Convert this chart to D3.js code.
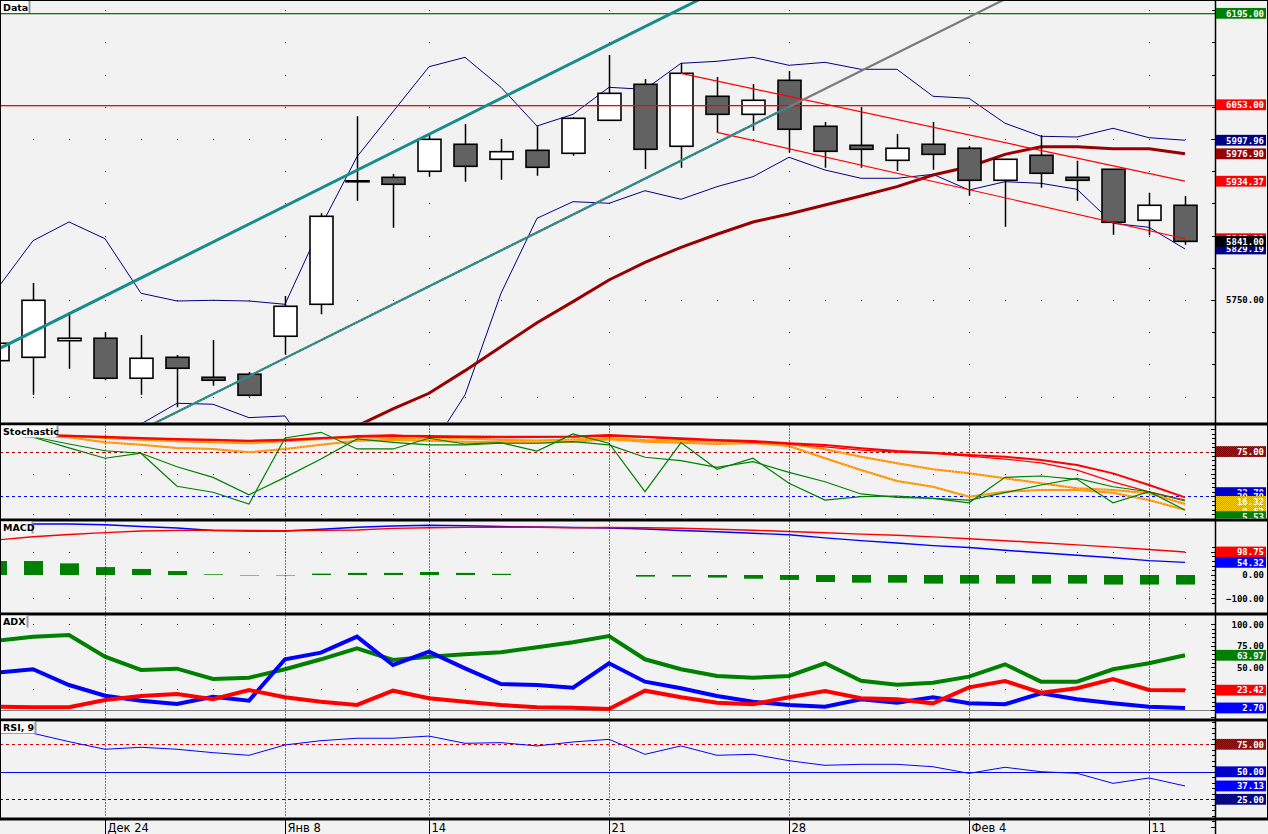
<!DOCTYPE html>
<html><head><meta charset="utf-8">
<script src="https://cdn.jsdelivr.net/npm/d3@7/dist/d3.min.js"></script>
<style>html,body{margin:0;padding:0;background:#f2f2f2;overflow:hidden}</style>
</head><body>
<svg id="chart" width="1268" height="834"></svg>
<script>
// ---------------- DATA ----------------
const dates = ['2018-12-19','2018-12-20','2018-12-21','2018-12-24','2018-12-25','2018-12-26','2018-12-27','2018-12-28',
 '2019-01-08','2019-01-09','2019-01-10','2019-01-11','2019-01-14','2019-01-15','2019-01-16','2019-01-17','2019-01-18',
 '2019-01-21','2019-01-22','2019-01-23','2019-01-24','2019-01-25','2019-01-28','2019-01-29','2019-01-30','2019-01-31',
 '2019-02-01','2019-02-04','2019-02-05','2019-02-06','2019-02-07','2019-02-08','2019-02-11','2019-02-12'];
const tickDates = ['2018-12-24','2019-01-08','2019-01-14','2019-01-21','2019-01-28','2019-02-04','2019-02-11'];
const tickLabels = ['Дек 24','Янв 8','14','21','28','Фев 4','11'];

const open  = [5655.8,5661.0,5686.8,5690.6,5628.5,5661.0,5630.0,5634.7,5693.7,5743.3,5935.0,5940.4,5949.8,5991.7,5968.4,5982.3,5977.7,6028.9,6084.8,5988.6,6066.2,6038.2,6091.0,6019.6,5990.1,5966.8,5991.7,5985.5,5935.8,5974.6,5940.4,5952.9,5873.7,5897.0];
const high  = [5691.0,5776.4,5731.0,5700.3,5695.7,5664.6,5687.9,5638.2,5756.2,5884.6,6035.1,5945.6,6006.1,6023.2,5999.9,6020.1,6034.0,6130.3,6093.0,6117.8,6096.1,6085.3,6105.4,6026.3,6049.6,6007.6,6026.3,5989.0,5968.8,6005.6,5966.2,5953.3,5916.5,5911.4];
const low   = [5644.5,5603.0,5643.4,5625.4,5603.0,5583.5,5617.0,5600.0,5665.1,5727.8,5904.1,5862.2,5941.4,5933.6,5936.7,5942.9,5974.0,6027.8,5953.3,5955.3,6009.2,6012.8,5978.6,5955.3,5955.3,5950.2,5952.2,5911.9,5863.8,5924.3,5904.1,5851.3,5850.4,5835.8];
const close = [5682.8,5749.5,5690.6,5628.5,5659.5,5644.0,5625.4,5602.1,5740.2,5879.9,5933.8,5929.6,5999.4,5957.5,5980.2,5956.0,6032.0,6070.8,5983.9,6101.9,6038.2,6060.0,6015.0,5980.8,5983.9,5985.5,5976.1,5935.8,5968.4,5946.7,5935.8,5870.6,5897.0,5841.0];

const bbUpper = [5767.1,5842.0,5871.1,5845.1,5760.4,5748.4,5749.5,5748.4,5743.3,5864.9,5972.4,6042.3,6112.1,6126.7,6080.1,6020.1,6038.2,6080.1,6077.0,6117.4,6120.5,6126.7,6114.3,6118.9,6108.1,6108.1,6066.2,6063.1,6024.3,6004.1,6003.0,6016.5,6001.9,5997.96];
const bbLower = [5509.4,5486.1,5486.1,5524.9,5557.5,5589.7,5588.1,5567.3,5570.0,5486.1,5424.1,5439.6,5515.6,5602.6,5760.4,5876.8,5902.6,5900.1,5919.6,5906.3,5925.9,5941.4,5971.5,5951.8,5938.9,5938.9,5945.1,5920.7,5933.6,5931.1,5921.8,5869.0,5862.8,5829.19];
const maLine  = [5307.7,5330.9,5354.2,5377.5,5400.8,5424.1,5448.9,5473.7,5498.6,5524.9,5554.4,5580.8,5605.2,5640.3,5677.5,5714.8,5747.4,5781.0,5808.5,5831.8,5852.0,5871.1,5883.5,5897.4,5911.4,5925.9,5944.0,5956.9,5976.1,5987.9,5987.9,5984.8,5984.8,5976.90];

const levelGreen = 6195.00;
const levelRed = 6053.00;
const trendUpper = [[0,5672.7],[20,6230.1]];
const trendLower = [[4,5548.2],[28,6217.0]];
const trendLowerTealEnd = 22;
const channelUpper = [[19,6101.9],[33,5934.37]];
const channelLower = [[20,6010.3],[33,5845.1]];

const stochFast = [93.6,91.0,79.2,67.5,73.1,36.1,29.4,16.2,90.2,96.6,77.9,77.9,89.9,83.5,84.9,75.6,94.7,84.3,30.0,85.0,55.2,67.5,39.5,20.7,24.4,25.2,22.6,17.6,46.1,47.6,43.9,17.6,30.0,9.5];
const stochSlow = [93.6,91.6,83.5,75.9,73.1,58.0,46.1,26.6,46.1,66.7,89.1,85.4,82.4,82.4,84.3,84.3,86.1,82.4,68.6,64.8,57.4,63.6,51.7,41.2,27.5,23.7,22.6,20.7,28.9,37.5,45.0,35.6,30.0,19.6];
const stochRed1 = [94.7,93.9,92.8,91.7,90.2,89.1,88.3,87.2,88.3,90.2,91.7,92.8,92.5,92.0,91.5,91.5,92.0,93.6,91.7,89.9,88.0,86.8,84.2,82.4,78.7,75.6,73.7,71.1,69.2,65.5,59.9,50.6,37.5,23.7];
const stochRed2 = [94.7,93.5,92.0,90.5,89.5,88.0,87.5,86.5,87.2,89.5,93.0,93.6,91.0,91.0,90.5,91.0,91.5,92.4,91.0,88.7,87.3,85.4,83.3,80.3,76.6,74.3,72.8,69.9,66.5,62.4,54.2,41.1,29.9,20.7];
const stochOrange1 = [94.7,93.6,92.8,90.2,88.3,86.5,85.4,84.3,86.5,89.1,91.0,90.2,89.5,89.5,88.0,87.5,88.5,89.9,88.0,87.2,86.1,86.1,83.5,77.5,69.2,61.8,55.1,50.6,45.0,39.4,33.8,31.9,28.2,16.32];
const stochOrange2 = [93.9,92.4,91.0,85.4,82.7,79.0,77.9,74.2,77.9,82.7,87.2,88.0,87.0,86.0,85.5,85.0,86.0,88.7,86.1,84.9,83.5,84.5,81.2,67.5,54.3,42.0,35.6,24.4,30.0,31.9,31.9,28.9,20.7,9.63];
const stochLevels = [75, 25];

const macdLine   = [217.6,218.9,218.9,215.9,208.2,201.7,191.0,188.8,188.8,196.1,204.7,210.3,213.3,211.2,208.2,206.0,203.9,201.7,197.4,191.0,185.4,179.4,172.5,159.2,147.6,137.3,126.2,118.0,106.0,95.3,85.0,73.8,61.8,54.32];
const macdSignal = [150.2,164.4,173.8,182.0,188.8,191.4,191.8,191.4,190.1,191.8,193.1,200.0,203.0,204.3,204.7,204.7,202.6,203.9,202.6,200.9,196.6,192.3,186.7,181.1,175.5,170.4,163.5,155.4,147.2,138.6,129.2,119.7,109.4,98.75];
const macdHist   = [60,60,50,34,26,17,3,-2,-2,6,9,9,13,9,5,0,0,0,-7,-7,-11,-16,-21,-30,-33,-33,-37,-37,-37,-37,-37,-41,-41,-41];

const adxLine = [80.9,85.6,87.6,62.3,46.9,48.4,36.4,37.9,47.7,59.3,72.1,58.5,62.3,65.1,67.4,73.3,79.1,86.4,59.3,47.7,39.9,37.9,39.9,54.7,34.4,29.8,32.1,39.1,53.5,33.3,33.3,47.7,54.7,63.97];
const diPlus  = [43.7,47.7,29.4,17.0,11.2,7.3,15.8,11.2,59.3,67.0,85.6,52.7,68.1,48.8,30.6,29.4,26.3,54.7,33.3,25.6,16.6,10.0,6.2,4.2,12.8,8.8,15.1,8.1,7.0,19.8,12.8,8.1,4.2,2.70];
const diMinus = [4.2,3.5,3.5,12.0,16.6,19.0,12.8,23.6,15.1,10.0,6.2,22.8,14.0,10.0,6.2,3.5,3.0,1.5,22.8,15.1,8.8,7.0,15.1,22.4,14.0,12.8,8.1,26.7,34.1,20.5,25.6,36.4,23.6,23.42];

const rsi = [85.0,85.0,77.4,70.5,72.3,70.5,67.4,65.0,74.4,78.3,80.5,80.5,82.5,75.9,76.5,73.5,77.1,79.5,65.9,73.5,65.0,65.9,60.1,55.9,56.8,56.8,54.6,48.6,54.1,50.1,48.6,39.5,44.4,37.13];
const rsiLevels = [75, 50, 25];

// ---------------- SETUP ----------------
const W = 1268, H = 834, PR = 1215;
const svg = d3.select('#chart');
svg.append('rect').attr('width', W).attr('height', H).attr('fill', '#f2f2f2');
const defs = svg.append('defs');
function dither(id, c1, c2) {
  const p = defs.append('pattern').attr('id', id).attr('width', 2).attr('height', 2).attr('patternUnits', 'userSpaceOnUse');
  p.append('rect').attr('width', 2).attr('height', 2).attr('fill', c1);
  p.append('rect').attr('width', 1).attr('height', 1).attr('fill', c2);
  p.append('rect').attr('x', 1).attr('y', 1).attr('width', 1).attr('height', 1).attr('fill', c2);
}
dither('dRed', '#e00000', '#800000');
dither('dBlue', '#0000e0', '#000080');
dither('dOrange', '#ff8000', '#ffd000');

const panels = {
  main:  {y0: 1,   y1: 422.5},
  stoch: {y0: 425.5, y1: 518.5},
  macd:  {y0: 521.5, y1: 612.5},
  adx:   {y0: 615.5, y1: 718.5},
  rsi:   {y0: 721.5, y1: 817.5}
};
Object.entries(panels).forEach(([k, p]) => {
  defs.append('clipPath').attr('id', 'clip-' + k).append('rect')
    .attr('x', 1).attr('y', p.y0).attr('width', PR - 1).attr('height', p.y1 - p.y0);
  defs.append('clipPath').attr('id', 'lab-' + k).append('rect')
    .attr('x', 1216).attr('y', p.y0).attr('width', 51).attr('height', p.y1 - p.y0);
});

const idx = d3.range(dates.length);
const x = d3.scaleLinear().domain([0, dates.length - 1]).range([-3, 1185]);
const xd = d => x(dates.indexOf(d));
const yMain  = d3.scaleLinear().domain([5600, 6200]).range([396.6, 10.1]);
const yStoch = d3.scaleLinear().domain([0, 100]).range([518.5, 429.25]);
const yMacd  = d3.scaleLinear().domain([-100, 100]).range([598.3, 551.7]);
const yAdx   = d3.scaleLinear().domain([0, 100]).range([710.3, 624.3]);
const yRsi   = d3.scaleLinear().domain([0, 100]).range([826.8, 716.8]);

function dots(g, pts) {
  g.append('g').selectAll('rect').data(pts).join('rect')
    .attr('x', d => Math.round(d[0])).attr('y', d => Math.round(d[1]))
    .attr('width', 1).attr('height', 1).attr('fill', '#000');
}
function series(g, arr, y, color, w, dash) {
  const p = g.append('path').datum(arr)
    .attr('d', d3.line().x((d, i) => x(i)).y(d => y(d)))
    .attr('fill', 'none').attr('stroke', color).attr('stroke-width', w)
    .attr('stroke-linejoin', 'miter');
  if (dash) p.attr('stroke-dasharray', dash);
  return p;
}
function seg(g, pts, y, color, w, dash) {
  const p = g.append('path').datum(pts)
    .attr('d', d3.line().x(d => x(d[0])).y(d => y(d[1])))
    .attr('fill', 'none').attr('stroke', color).attr('stroke-width', w);
  if (dash) p.attr('stroke-dasharray', dash);
  return p;
}
function hline(g, v, y, color, w, dash) {
  const yy = Math.round(y(v)) + 0.5;
  const l = g.append('line').attr('x1', 0).attr('x2', PR).attr('y1', yy).attr('y2', yy)
    .attr('stroke', color).attr('stroke-width', w).attr('shape-rendering', 'crispEdges');
  if (dash) l.attr('stroke-dasharray', dash);
}
function levelBar(g, v, y, color) {
  g.append('rect').attr('x', 1).attr('width', PR - 1)
    .attr('y', Math.round(y(v))).attr('height', 1.3).attr('fill', color);
}

// ---------------- MAIN PANEL ----------------
const gM = svg.append('g').attr('clip-path', 'url(#clip-main)');
const mainRows = d3.range(5600, 6201, 50);
const mainMajorRows = [6000, 5750, 5600];
let pts = [];
mainMajorRows.forEach(r => idx.forEach(i => pts.push([x(i), yMain(r)])));
tickDates.forEach(d => mainRows.forEach(r => pts.push([xd(d), yMain(r)])));
dots(gM, pts);

series(gM, bbUpper, yMain, '#000080', 1);
series(gM, bbLower, yMain, '#000080', 1);
series(gM, maLine, yMain, '#990000', 3);

const candles = idx.map(i => ({i, o: open[i], h: high[i], l: low[i], c: close[i]}));
gM.append('g').selectAll('line').data(candles).join('line')
  .attr('x1', d => Math.round(x(d.i)) + 0.5).attr('x2', d => Math.round(x(d.i)) + 0.5)
  .attr('y1', d => yMain(d.h)).attr('y2', d => yMain(d.l))
  .attr('stroke', '#000').attr('stroke-width', 1.5);
gM.append('g').selectAll('rect').data(candles).join('rect')
  .attr('x', d => Math.round(x(d.i)) - 11).attr('width', 23)
  .attr('y', d => yMain(Math.max(d.o, d.c)))
  .attr('height', d => Math.max(1, Math.abs(yMain(d.o) - yMain(d.c))))
  .attr('fill', d => d.c >= d.o ? '#ffffff' : '#626262')
  .attr('stroke', '#000').attr('stroke-width', 1.6);

levelBar(gM, levelGreen, yMain, '#008000');
levelBar(gM, levelRed, yMain, '#ff0000');
seg(gM, channelUpper, yMain, '#ff0000', 1.2);
seg(gM, channelLower, yMain, '#ff0000', 1.2);
seg(gM, trendLower, yMain, '#7a7a7a', 2.2);
const tealLowerEnd = [trendLowerTealEnd, d3.interpolateNumber(trendLower[0][1], trendLower[1][1])((trendLowerTealEnd - trendLower[0][0]) / (trendLower[1][0] - trendLower[0][0]))];
seg(gM, [trendLower[0], tealLowerEnd], yMain, '#109090', 2.2, '2,1');
seg(gM, trendUpper, yMain, '#168c8c', 3);

// ---------------- STOCHASTIC ----------------
const gS = svg.append('g').attr('clip-path', 'url(#clip-stoch)');
pts = [];
[50, 5].forEach(r => idx.forEach(i => pts.push([x(i), yStoch(r)])));
dots(gS, pts);
hline(gS, stochLevels[0], yStoch, '#a00000', 1, '3,3');
hline(gS, stochLevels[1], yStoch, '#0000ff', 1.2, '3,3');
series(gS, stochOrange2, yStoch, '#ff8c00', 2);
series(gS, stochOrange2, yStoch, '#ffd040', 1, '1,2');
series(gS, stochOrange1, yStoch, '#ff8c00', 2);
series(gS, stochOrange1, yStoch, '#ffd040', 1, '1,2');
series(gS, stochRed2, yStoch, '#ff0000', 1.2);
series(gS, stochRed1, yStoch, '#ff0000', 2);
series(gS, stochSlow, yStoch, '#008000', 1.2);
series(gS, stochFast, yStoch, '#008000', 1.2);

// ---------------- MACD ----------------
const gD = svg.append('g').attr('clip-path', 'url(#clip-macd)');
pts = [];
[100, -100].forEach(r => idx.forEach(i => pts.push([x(i), yMacd(r)])));
dots(gD, pts);
gD.append('g').selectAll('rect').data(macdHist).join('rect')
  .attr('x', (d, i) => Math.round(x(i)) - 9).attr('width', 19)
  .attr('y', d => Math.min(yMacd(0), yMacd(d)))
  .attr('height', d => Math.abs(yMacd(d) - yMacd(0)))
  .attr('fill', '#008000');
series(gD, macdLine, yMacd, '#0000ff', 1.4);
series(gD, macdSignal, yMacd, '#ff0000', 1.4);

// ---------------- ADX ----------------
const gA = svg.append('g').attr('clip-path', 'url(#clip-adx)');
pts = [];
[100, 25].forEach(r => idx.forEach(i => pts.push([x(i), yAdx(r)])));
dots(gA, pts);
hline(gA, 0, yAdx, '#808080', 1);
series(gA, adxLine, yAdx, '#008000', 4);
series(gA, diPlus, yAdx, '#0000ff', 4);
series(gA, diMinus, yAdx, '#ff0000', 4);

// ---------------- RSI ----------------
const gR = svg.append('g').attr('clip-path', 'url(#clip-rsi)');
hline(gR, rsiLevels[0], yRsi, '#d00000', 1, '3,3');
hline(gR, rsiLevels[1], yRsi, '#0000ff', 1);
hline(gR, rsiLevels[2], yRsi, '#0000cc', 1, '3,3');
series(gR, rsi, yRsi, '#0000ff', 1);

// vertical dotted lines in lower panels
['stoch', 'macd', 'adx', 'rsi'].forEach(k => {
  const p = panels[k];
  svg.append('g').selectAll('line').data(tickDates).join('line')
    .attr('x1', d => Math.round(xd(d)) + 0.5).attr('x2', d => Math.round(xd(d)) + 0.5)
    .attr('y1', p.y0).attr('y2', p.y1)
    .attr('stroke', '#000').attr('stroke-width', 1).attr('stroke-dasharray', '1,2');
});

// ---------------- FRAME / AXES ----------------
svg.append('line').attr('x1', 0).attr('x2', W).attr('y1', 0.5).attr('y2', 0.5).attr('stroke', '#000');
svg.append('line').attr('x1', 0.5).attr('x2', 0.5).attr('y1', 0).attr('y2', 819).attr('stroke', '#000');
svg.append('line').attr('x1', 1267.5).attr('x2', 1267.5).attr('y1', 0).attr('y2', 819).attr('stroke', '#000');
[424, 520, 614, 720, 819].forEach(yy => {
  svg.append('line').attr('x1', 0).attr('x2', W).attr('y1', yy).attr('y2', yy).attr('stroke', '#000').attr('stroke-width', 3);
});
svg.append('line').attr('x1', PR + 0.5).attr('x2', PR + 0.5).attr('y1', 0).attr('y2', H).attr('stroke', '#000').attr('stroke-width', 1.5);

// right axis ticks
function ticks(vals, y, major) {
  const g = svg.append('g');
  g.selectAll('line').data(vals).join('line')
    .attr('x1', v => major.includes(v) ? PR - 4 : PR - 3).attr('x2', PR)
    .attr('y1', v => Math.round(y(v)) + 0.5).attr('y2', v => Math.round(y(v)) + 0.5)
    .attr('stroke', '#000');
}
ticks(mainRows, yMain, [6000, 5750]);
ticks(d3.range(0, 101, 5), yStoch, [0, 25, 50, 75, 100]);
ticks(d3.range(-120, 121, 20), yMacd, [-100, 0, 100]);
ticks(d3.range(0, 101, 5), yAdx, [0, 25, 50, 75, 100]);
ticks(d3.range(0, 101, 5), yRsi, [0, 25, 50, 75, 100]);

// x axis
const gX = svg.append('g');
tickDates.forEach((d, k) => {
  const xx = Math.round(xd(d)) + 0.5;
  gX.append('line').attr('x1', xx).attr('x2', xx).attr('y1', 820).attr('y2', 834).attr('stroke', '#000');
  gX.append('text').attr('x', xx + 2).attr('y', 832).attr('font-family', 'DejaVu Sans').attr('font-size', 11.5)
    .attr('fill', '#000').text(tickLabels[k]);
});

// panel titles
function title(txt, y0, w) {
  const g = svg.append('g');
  g.append('rect').attr('x', 1).attr('y', y0).attr('width', w).attr('height', 12).attr('fill', '#fbfbfb');
  g.append('line').attr('x1', w + 1.5).attr('x2', w + 1.5).attr('y1', y0).attr('y2', y0 + 12).attr('stroke', '#9a9a9a').attr('stroke-width', 2);
  g.append('text').attr('x', 3).attr('y', y0 + 9.5).attr('font-family', 'DejaVu Sans').attr('font-weight', 'bold')
    .attr('font-size', 9.5).attr('fill', '#000').text(txt);
}
title('Data', 1, 28);
title('Stochastic', 425.5, 56);
title('MACD', 521.5, 31);
title('ADX', 615.5, 26);
title('RSI, 9', 721.5, 34);

// right labels
function plainLabel(k, yc, text) {
  svg.append('g').attr('clip-path', 'url(#lab-' + k + ')').append('text')
    .attr('x', 1264).attr('y', yc + 3.3).attr('text-anchor', 'end')
    .attr('font-family', 'DejaVu Sans Mono').attr('font-weight', 'bold').attr('font-size', 9)
    .attr('fill', '#000').text(text);
}
function boxLabel(k, yc, text, fill) {
  const g = svg.append('g').attr('clip-path', 'url(#lab-' + k + ')');
  g.append('rect').attr('x', 1216).attr('y', yc - 5.4).attr('width', 50).attr('height', 10.8).attr('fill', fill);
  g.append('text').attr('x', 1264).attr('y', yc + 3.3).attr('text-anchor', 'end')
    .attr('font-family', 'DejaVu Sans Mono').attr('font-weight', 'bold').attr('font-size', 9)
    .attr('fill', '#fff').text(text);
}
const f2 = d3.format('.2f');
// main
plainLabel('main', yMain(5750), f2(5750));
boxLabel('main', yMain(levelGreen), f2(levelGreen), '#008000');
boxLabel('main', yMain(levelRed), f2(levelRed), '#ff0000');
boxLabel('main', yMain(bbUpper[33]), f2(bbUpper[33]), '#000080');
boxLabel('main', yMain(maLine[33]), f2(maLine[33]), '#990000');
boxLabel('main', yMain(channelUpper[1][1]), f2(channelUpper[1][1]), '#ff0000');
boxLabel('main', yMain(channelLower[1][1]), f2(channelLower[1][1]), '#ff0000');
boxLabel('main', yMain(bbLower[33]), f2(bbLower[33]), '#000080');
boxLabel('main', yMain(close[33]), f2(close[33]), '#000000');
// stochastic (stacked labels)
boxLabel('stoch', yStoch(75), f2(75), 'url(#dRed)');
boxLabel('stoch', yStoch(29.0), f2(stochRed1[33]), '#0000cc');
boxLabel('stoch', yStoch(24.1), f2(stochRed2[33]), '#0000cc');
boxLabel('stoch', yStoch(19.2), f2(stochOrange1[33]), 'url(#dOrange)');
boxLabel('stoch', yStoch(7.3), f2(stochOrange2[33]), 'url(#dOrange)');
boxLabel('stoch', yStoch(2.1), f2(5.53), '#008000');
// macd
plainLabel('macd', yMacd(0), f2(0));
plainLabel('macd', yMacd(-100), f2(-100));
boxLabel('macd', yMacd(macdSignal[33]), f2(macdSignal[33]), '#ff0000');
boxLabel('macd', yMacd(macdLine[33]), f2(macdLine[33]), '#0000ff');
// adx
plainLabel('adx', yAdx(100), f2(100));
plainLabel('adx', yAdx(75), f2(75));
plainLabel('adx', yAdx(50), f2(50));
boxLabel('adx', yAdx(adxLine[33]), f2(adxLine[33]), '#008000');
boxLabel('adx', yAdx(diMinus[33]), f2(diMinus[33]), '#ff0000');
boxLabel('adx', yAdx(diPlus[33]), f2(diPlus[33]), '#0000ff');
// rsi
boxLabel('rsi', yRsi(75), f2(75), 'url(#dRed)');
boxLabel('rsi', yRsi(50), f2(50), '#0000cc');
boxLabel('rsi', yRsi(rsi[33]), f2(rsi[33]), '#0000ff');
boxLabel('rsi', yRsi(25), f2(25), 'url(#dBlue)');
</script>
</body></html>
